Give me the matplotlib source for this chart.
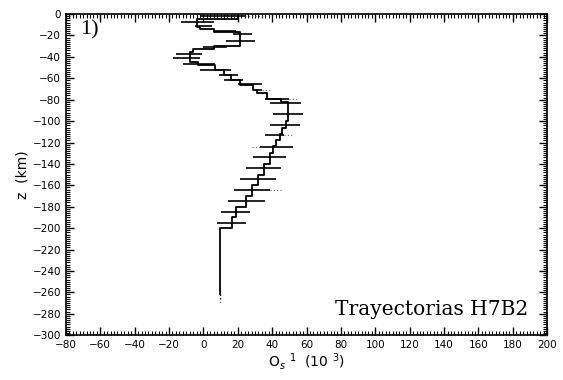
import numpy as np
import matplotlib.pyplot as plt
from matplotlib.ticker import MultipleLocator

# step profile: layer boundaries (km) and value in each layer
z_edges = [0, -5, -12, -14, -17, -30, -33, -35, -45, -48, -52, -57, -62, -66,
           -71, -74, -79, -82, -100, -106, -112, -118, -123, -130, -140, -150,
           -160, -170, -180, -190, -200, -262]
os_vals = [20, -4, -2, 6, 21, 6, -6, -8, -3, 7, 12, 16, 21, 29, 31, 37, 45,
           49, 48, 46, 44.5, 42.5, 40.5, 38.5, 35, 32, 28.5, 25, 19, 16.5, 9.7]

# horizontal error bars (depth, low, high)
bar_z = [-2, -7, -11, -16, -19, -25, -31, -37, -41, -47, -52, -57, -62, -65,
         -71, -79, -83, -93, -104, -113, -124, -134, -144, -154, -164, -175,
         -185, -195]
bar_lo = [-2, -13, -5, 6, 17, 13, 0, -16, -17.5, -12, -2, 9, 12, 20, 31, 36,
          39, 40.5, 39, 36, 33, 29, 25, 21.5, 18, 14.5, 10, 8]
bar_hi = [24, 6, 5, 19, 28, 30, 14, -1, -2, 7, 16, 20, 23, 34, 34, 50, 57, 58,
          56, 47, 52, 48, 45, 42, 39, 36, 27, 25]

# faint dotted extensions (depth, low, high)
dot_z = [-2, -71, -79, -113, -124, -164]
dot_lo = [24, 34, 50, 47, 28, 39]
dot_hi = [35, 40, 55, 52, 33, 46]

fig = plt.figure(figsize=(5.63, 3.80), dpi=100)
ax = fig.add_axes([0.117, 0.118, 0.855, 0.845])

xs = []
zs = []
for i in range(len(os_vals)):
    xs += [os_vals[i], os_vals[i]]
    zs += [z_edges[i], z_edges[i + 1]]
ax.plot(xs, zs, color='black', lw=1.3)
ax.plot([os_vals[-1], os_vals[-1]], [z_edges[-1], -269], color='black',
        lw=1.0, ls=':')

ax.hlines(bar_z, bar_lo, bar_hi, color='black', lw=1.2)
ax.hlines(dot_z, dot_lo, dot_hi, color='0.4', lw=0.8, ls=(0, (1, 2)))

ax.set_xlim(-80, 200)
ax.set_ylim(-300, 0)
ax.xaxis.set_major_locator(MultipleLocator(20))
ax.xaxis.set_minor_locator(MultipleLocator(2))
ax.yaxis.set_major_locator(MultipleLocator(20))
ax.yaxis.set_minor_locator(MultipleLocator(2))
ax.tick_params(which='both', direction='in', top=True, right=True, labelsize=7.5)
ax.tick_params(which='major', length=6, width=1)
ax.tick_params(which='minor', length=3, width=0.8)
for s in ax.spines.values():
    s.set_linewidth(1.2)

ax.set_xlabel('O$_s$ $^1$  (10 $^3$)', fontsize=10, labelpad=1)
ax.set_ylabel('z  (km)', fontsize=10, labelpad=2)

ax.text(-72, -15, '1)', fontsize=16, family='Liberation Serif', va='center')
ax.text(189, -276, 'Trayectorias H7B2', fontsize=14.5,
        family='DejaVu Serif', ha='right', va='center')

plt.savefig('out.png', dpi=100)
